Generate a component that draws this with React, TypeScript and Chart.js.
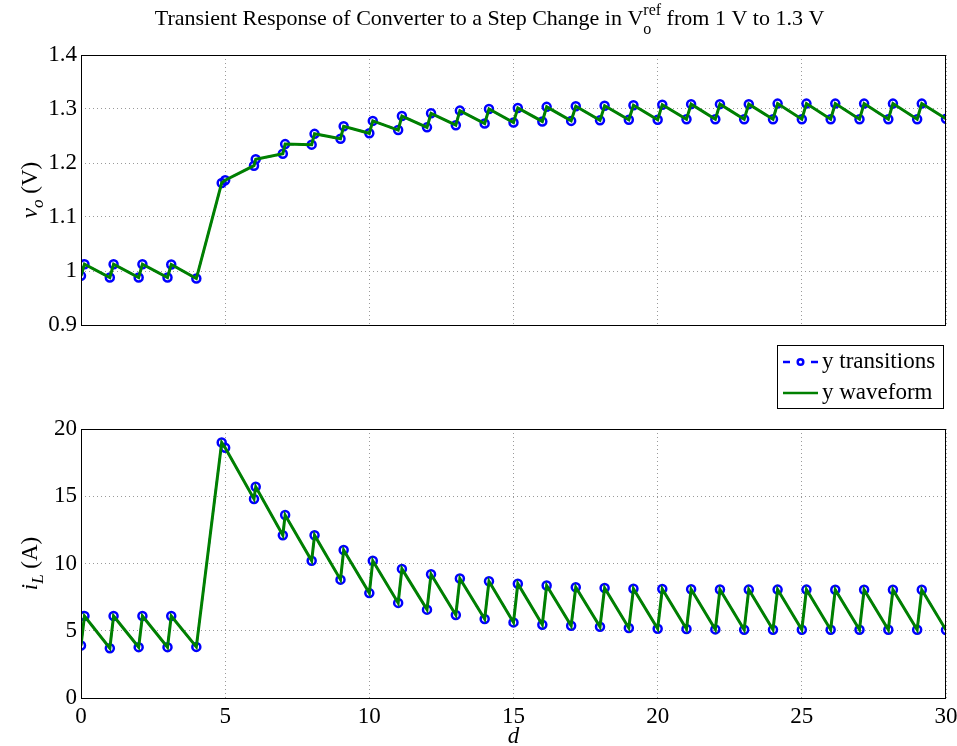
import React, { useEffect, useRef } from "react";
import { Chart, registerables } from "chart.js";

Chart.register(...registerables);

// ---------- data ----------
// transition instants (switching periods d) and the sampled values at each instant
const dValues = [
  0, 0.12, 1, 1.13, 2, 2.13, 3, 3.13, 4, 4.88, 5,
  6, 6.06, 7, 7.08, 8, 8.1, 9, 9.11, 10, 10.12, 11, 11.13, 12, 12.14,
  13, 13.14, 14, 14.15, 15, 15.15, 16, 16.15, 17, 17.16, 18, 18.16,
  19, 19.16, 20, 20.16, 21, 21.16, 22, 22.16, 23, 23.16, 24, 24.16,
  25, 25.16, 26, 26.16, 27, 27.16, 28, 28.16, 29, 29.16, 30,
];
const voValues = [
  0.991, 1.0125, 0.988, 1.0125, 0.988, 1.0125, 0.988, 1.012, 0.986, 1.163, 1.168,
  1.195, 1.207, 1.217, 1.235, 1.234, 1.254, 1.245, 1.268, 1.255, 1.278, 1.261, 1.287, 1.266, 1.292,
  1.27, 1.297, 1.273, 1.3, 1.275, 1.302, 1.277, 1.304, 1.278, 1.305, 1.279, 1.306,
  1.28, 1.307, 1.28, 1.308, 1.281, 1.309, 1.281, 1.309, 1.281, 1.309, 1.281, 1.31,
  1.281, 1.31, 1.281, 1.31, 1.281, 1.31, 1.281, 1.31, 1.281, 1.31, 1.282,
];
const iLValues = [
  3.9, 6.1, 3.7, 6.1, 3.78, 6.1, 3.78, 6.1, 3.8, 19.0, 18.6,
  14.8, 15.7, 12.1, 13.6, 10.2, 12.1, 8.8, 11.0, 7.8, 10.2, 7.07, 9.6, 6.57, 9.2,
  6.17, 8.88, 5.87, 8.68, 5.62, 8.5, 5.45, 8.36, 5.37, 8.23, 5.3, 8.18,
  5.2, 8.12, 5.15, 8.1, 5.13, 8.08, 5.1, 8.07, 5.08, 8.06, 5.08, 8.06,
  5.08, 8.06, 5.07, 8.05, 5.07, 8.05, 5.07, 8.05, 5.07, 8.05, 5.05,
];

const xTicks = [0, 5, 10, 15, 20, 25, 30];
const xTickLabels = ["0", "5", "10", "15", "20", "25", "30"];
const voTicks = [0.9, 1, 1.1, 1.2, 1.3, 1.4];
const voTickLabels = ["0.9", "1", "1.1", "1.2", "1.3", "1.4"];
const iLTicks = [0, 5, 10, 15, 20];
const iLTickLabels = ["0", "5", "10", "15", "20"];
const seriesLabels = ["y transitions", "y waveform"];

const titleMain = "Transient Response of Converter to a Step Change in V";
const titleSup = "ref";
const titleSub = "o";
const titleTail = " from 1 V to 1.3 V";

const SERIF = "'Liberation Serif', 'Times New Roman', serif";
const BLUE = "#0000ff";
const GREEN = "#008000";

function makePoints(ys: number[]) {
  return dValues.map((d, i) => ({ x: d, y: ys[i] }));
}

function datasets(ys: number[]) {
  return [
    {
      label: seriesLabels[0],
      data: makePoints(ys),
      borderColor: BLUE,
      borderWidth: 2,
      borderDash: [6, 4],
      pointRadius: 4,
      pointBorderWidth: 2.5,
      pointBorderColor: BLUE,
      pointBackgroundColor: "rgba(0,0,0,0)",
      tension: 0,
      order: 1,
    },
    {
      label: seriesLabels[1],
      data: makePoints(ys),
      borderColor: GREEN,
      borderWidth: 3,
      pointRadius: 0,
      tension: 0,
      order: 0,
    },
  ];
}

function yScale(min: number, max: number, ticks: number[], labels: string[]) {
  return {
    type: "linear",
    min,
    max,
    afterBuildTicks: (s: any) => {
      s.ticks = ticks.map((value) => ({ value }));
    },
    afterFit: (s: any) => {
      s.width = 81;
      s.paddingTop = 0;
      s.paddingBottom = 0;
    },
    ticks: {
      callback: (_v: any, i: number) => labels[i],
      color: "#000",
      font: { family: SERIF, size: 23 },
      padding: 4,
    },
    grid: { color: "#9a9a9a", drawTicks: false, lineWidth: 1 },
    border: { display: false, dash: [1, 3] },
  };
}

function xScale(showLabels: boolean, height: number) {
  return {
    type: "linear",
    min: 0,
    max: 30,
    afterBuildTicks: (s: any) => {
      s.ticks = xTicks.map((value) => ({ value }));
    },
    afterFit: (s: any) => {
      s.height = height;
      s.paddingLeft = 0;
      s.paddingRight = 0;
    },
    ticks: {
      display: showLabels,
      callback: (_v: any, i: number) => xTickLabels[i],
      color: "#000",
      font: { family: SERIF, size: 23 },
      padding: 5,
      maxRotation: 0,
      autoSkip: false,
    },
    grid: { color: "#9a9a9a", drawTicks: false, lineWidth: 1 },
    border: { display: false, dash: [1, 3] },
  };
}

function drawBox(chart: any) {
  const { ctx, chartArea: a } = chart;
  ctx.save();
  ctx.strokeStyle = "#000";
  ctx.lineWidth = 1;
  ctx.strokeRect(a.left + 0.5, a.top + 0.5, a.right - a.left - 1, a.bottom - a.top);
  ctx.restore();
}

function drawYLabel(ctx: CanvasRenderingContext2D, cx: number, cy: number, main: string, sub: string, unit: string) {
  ctx.save();
  ctx.fillStyle = "#000";
  ctx.textBaseline = "alphabetic";
  const fMain = `italic 23px ${SERIF}`;
  const fSub = `italic 17px ${SERIF}`;
  const fUnit = `23px ${SERIF}`;
  ctx.font = fMain;
  const w1 = ctx.measureText(main).width;
  ctx.font = fSub;
  const w2 = ctx.measureText(sub).width;
  ctx.font = fUnit;
  const w3 = ctx.measureText(unit).width;
  const total = w1 + w2 + w3;
  ctx.translate(cx, cy);
  ctx.rotate(-Math.PI / 2);
  let x = -total / 2;
  ctx.font = fMain;
  ctx.fillText(main, x, 0);
  x += w1;
  ctx.font = fSub;
  ctx.fillText(sub, x, 6);
  x += w2;
  ctx.font = fUnit;
  ctx.fillText(unit, x, 0);
  ctx.restore();
}

const topPlugin = {
  id: "topDecor",
  afterDraw(chart: any) {
    const ctx: CanvasRenderingContext2D = chart.ctx;
    drawBox(chart);
    // title
    ctx.save();
    ctx.fillStyle = "#000";
    ctx.textBaseline = "alphabetic";
    const fMain = `22px ${SERIF}`;
    const fSmall = `16px ${SERIF}`;
    ctx.font = fMain;
    const wMain = ctx.measureText(titleMain).width;
    const wTail = ctx.measureText(titleTail).width;
    ctx.font = fSmall;
    const wScript = Math.max(ctx.measureText(titleSup).width, ctx.measureText(titleSub).width);
    const total = wMain + wScript + wTail;
    let x = 489.5 - total / 2;
    const base = 25;
    ctx.font = fMain;
    ctx.fillText(titleMain, x, base);
    x += wMain;
    ctx.font = fSmall;
    ctx.fillText(titleSup, x, base - 10);
    ctx.fillText(titleSub, x, base + 9);
    x += wScript;
    ctx.font = fMain;
    ctx.fillText(titleTail, x, base);
    ctx.restore();

    // y label
    drawYLabel(ctx, 37, (chart.chartArea.top + chart.chartArea.bottom) / 2, "v", "o", " (V)");

    // legend
    ctx.save();
    const lx = 777, ly = 345, lw = 166, lh = 63;
    ctx.fillStyle = "#fff";
    ctx.fillRect(lx, ly, lw, lh);
    ctx.strokeStyle = "#000";
    ctx.lineWidth = 1;
    ctx.strokeRect(lx + 0.5, ly + 0.5, lw, lh);
    const r1 = 362, r2 = 393;
    ctx.strokeStyle = BLUE;
    ctx.lineWidth = 2.5;
    ctx.beginPath();
    ctx.moveTo(783, r1); ctx.lineTo(790, r1);
    ctx.moveTo(811, r1); ctx.lineTo(818, r1);
    ctx.stroke();
    ctx.beginPath();
    ctx.arc(800.5, r1, 2.8, 0, Math.PI * 2);
    ctx.stroke();
    ctx.strokeStyle = GREEN;
    ctx.lineWidth = 2.5;
    ctx.beginPath();
    ctx.moveTo(783, r2); ctx.lineTo(818, r2);
    ctx.stroke();
    ctx.fillStyle = "#000";
    ctx.font = `23px ${SERIF}`;
    ctx.textBaseline = "middle";
    ctx.fillText(seriesLabels[0], 822, r1);
    ctx.fillText(seriesLabels[1], 822, r2);
    ctx.restore();
  },
};

const bottomPlugin = {
  id: "bottomDecor",
  afterDraw(chart: any) {
    const ctx: CanvasRenderingContext2D = chart.ctx;
    drawBox(chart);
    drawYLabel(ctx, 37, (chart.chartArea.top + chart.chartArea.bottom) / 2, "i", "L", " (A)");
    ctx.save();
    ctx.fillStyle = "#000";
    ctx.font = `italic 23px ${SERIF}`;
    ctx.textAlign = "center";
    ctx.textBaseline = "middle";
    ctx.fillText("d", (chart.chartArea.left + chart.chartArea.right) / 2, 327);
    ctx.restore();
  },
};

export default function App() {
  const topRef = useRef<HTMLCanvasElement | null>(null);
  const botRef = useRef<HTMLCanvasElement | null>(null);

  useEffect(() => {
    const common = {
      animation: false,
      responsive: false,
      plugins: { legend: { display: false }, tooltip: { enabled: false }, title: { display: false } },
    };
    const top = new Chart(topRef.current as HTMLCanvasElement, {
      type: "line",
      data: { datasets: datasets(voValues) as any },
      options: {
        ...common,
        layout: { padding: { left: 0, right: 11, top: 55, bottom: 85 } },
        scales: {
          x: xScale(false, 0) as any,
          y: yScale(0.9, 1.4, voTicks, voTickLabels) as any,
        },
      } as any,
      plugins: [topPlugin],
    });
    const bot = new Chart(botRef.current as HTMLCanvasElement, {
      type: "line",
      data: { datasets: datasets(iLValues) as any },
      options: {
        ...common,
        layout: { padding: { left: 0, right: 11, top: 19, bottom: 0 } },
        scales: {
          x: xScale(true, 48) as any,
          y: yScale(0, 20, iLTicks, iLTickLabels) as any,
        },
      } as any,
      plugins: [bottomPlugin],
    });
    return () => {
      top.destroy();
      bot.destroy();
    };
  }, []);

  return (
    <div style={{ position: "absolute", left: 0, top: 0, width: 957, height: 746, background: "#fff" }}>
      <canvas ref={topRef} width={957} height={410} style={{ position: "absolute", left: 0, top: 0, display: "block" }} />
      <canvas ref={botRef} width={957} height={336} style={{ position: "absolute", left: 0, top: 410, display: "block" }} />
    </div>
  );
}
